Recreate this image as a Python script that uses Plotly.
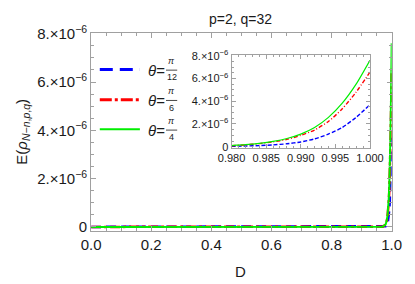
import plotly.graph_objects as go

W, H = 415, 284

# ---- data (values in units of 1e-6) ----
D_main = [0.0, 0.2, 0.4, 0.6, 0.8, 0.9, 0.95, 0.97,
          0.980, 0.982, 0.984, 0.986, 0.988, 0.990, 0.992, 0.994, 0.996, 0.998, 1.000]
blue_main = [0, 0, 0, 0, 0, 0, 0, 0.005,
             0.03, 0.06, 0.10, 0.16, 0.26, 0.42, 0.69, 1.11, 1.69, 2.58, 3.69]
red_main = [0, 0, 0, 0, 0, 0, 0, 0.01,
            0.09, 0.16, 0.27, 0.42, 0.64, 1.00, 1.47, 2.22, 3.33, 4.80, 6.55]
green_main = [0, 0, 0, 0, 0, 0, 0, 0.01,
              0.10, 0.18, 0.30, 0.47, 0.72, 1.11, 1.69, 2.58, 3.83, 5.50, 7.60]

D_inset = [0.980, 0.982, 0.984, 0.986, 0.988, 0.990, 0.992, 0.994, 0.996, 0.998, 1.000]
blue_inset = [0.03, 0.06, 0.10, 0.16, 0.26, 0.42, 0.69, 1.11, 1.69, 2.58, 3.69]
red_inset = [0.09, 0.16, 0.27, 0.42, 0.64, 1.00, 1.47, 2.22, 3.33, 4.80, 6.55]
green_inset = [0.10, 0.18, 0.30, 0.47, 0.72, 1.11, 1.69, 2.58, 3.83, 5.50, 7.60]
SCALE = 1e-6

series_names = ["θ=π/12", "θ=π/6", "θ=π/4"]
frac_den = ["12", "6", "4"]

y_tickvals = [0, 2e-6, 4e-6, 6e-6, 8e-6]
y_ticktext = ["0", "2.×10<sup>−6</sup>", "4.×10<sup>−6</sup>", "6.×10<sup>−6</sup>", "8.×10<sup>−6</sup>"]
x_main_tickvals = [0.0, 0.2, 0.4, 0.6, 0.8, 1.0]
x_main_ticktext = ["0.0", "0.2", "0.4", "0.6", "0.8", "1.0"]
x_inset_tickvals = [0.980, 0.985, 0.990, 0.995, 1.000]
x_inset_ticktext = ["0.980", "0.985", "0.990", "0.995", "1.000"]

BLUE, RED, GREEN = "#0000ff", "#ff0000", "#00ee00"
FRAME = "#a0a0a0"
FONT = "Liberation Sans, Arial, sans-serif"

def px(x):
    return x / W

def py(y):
    return 1 - y / H

fig = go.Figure()

main_styles = [
    (blue_main, BLUE, "10px,5px", 2.5),
    (red_main, RED, "10px,3px,3px,3px", 2.5),
    (green_main, GREEN, "solid", 2.0),
]
for (vals, col, dash, w), name in zip(main_styles, series_names):
    fig.add_trace(go.Scatter(
        x=D_main, y=[v * SCALE for v in vals], mode="lines", name=name,
        line=dict(color=col, dash=dash, width=w), showlegend=False,
        xaxis="x", yaxis="y"))

inset_styles = [
    (blue_inset, BLUE, "4px,2px", 1.4),
    (red_inset, RED, "4px,2px,1px,2px", 1.4),
    (green_inset, GREEN, "solid", 1.2),
]
for (vals, col, dash, w), name in zip(inset_styles, series_names):
    fig.add_trace(go.Scatter(
        x=D_inset, y=[v * SCALE for v in vals], mode="lines", name=name,
        line=dict(color=col, dash=dash, width=w, shape="spline", smoothing=0.6),
        showlegend=False, xaxis="x2", yaxis="y2"))

common = dict(showgrid=False, zeroline=False, showline=True, linecolor=FRAME,
              linewidth=1, mirror="ticks", ticks="inside", tickcolor=FRAME)

fig.update_layout(
    width=W, height=H,
    margin=dict(l=0, r=0, t=0, b=0),
    paper_bgcolor="white", plot_bgcolor="white",
    font=dict(family=FONT, color="#1a1a1a"),
    hovermode=False,
    xaxis=dict(domain=[px(82.7), px(405)], range=[0, 1],
               tickvals=x_main_tickvals, ticktext=x_main_ticktext,
               ticklen=5, tickfont=dict(size=15),
               minor=dict(tickmode="linear", tick0=0, dtick=0.05, ticklen=3,
                          ticks="inside", tickcolor=FRAME),
               anchor="y", **common),
    yaxis=dict(domain=[py(233), py(24)], range=[-0.157e-6, 8.04e-6],
               tickvals=y_tickvals, ticktext=y_ticktext,
               ticklen=5, tickfont=dict(size=15),
               minor=dict(tickmode="linear", tick0=0, dtick=0.5e-6, ticklen=3,
                          ticks="inside", tickcolor=FRAME),
               anchor="x", **common),
    xaxis2=dict(domain=[px(233.3), px(381.7)], range=[0.98, 1.0],
                tickvals=x_inset_tickvals, ticktext=x_inset_ticktext,
                ticklen=4, tickfont=dict(size=11),
                minor=dict(tickmode="linear", tick0=0.98, dtick=0.001, ticklen=2,
                           ticks="inside", tickcolor=FRAME),
                anchor="y2", **common),
    yaxis2=dict(domain=[py(145.3), py(47.3)], range=[-0.08e-6, 8.08e-6],
                tickvals=y_tickvals, ticktext=y_ticktext,
                ticklen=4, tickfont=dict(size=11),
                minor=dict(tickmode="linear", tick0=0, dtick=0.5e-6, ticklen=2,
                           ticks="inside", tickcolor=FRAME),
                anchor="x2", **common),
)

annotations = [
    dict(text="p=2, q=32", x=px(243), y=py(9), xref="paper", yref="paper",
         showarrow=False, font=dict(size=14), xanchor="center", yanchor="middle"),
    dict(text="D", x=px(243), y=py(276), xref="paper", yref="paper",
         showarrow=False, font=dict(size=15), xanchor="center", yanchor="middle"),
    dict(text="E(<i>ρ</i><sub><i>N</i>−<i>n</i>,<i>p</i>,<i>q</i></sub>)",
         x=px(9), y=py(128), xref="paper", yref="paper", textangle=-90,
         showarrow=False, font=dict(size=15), xanchor="center", yanchor="middle"),
]

shapes = []
legend_y = [62.7, 94.7, 126.0]
legend_dash = ["13px,7px", "12px,3px,3px,3px", "solid"]
legend_col = [BLUE, RED, GREEN]
legend_w = [3, 3, 2]
for ly, col, dash, w, den in zip(legend_y, legend_col, legend_dash, legend_w, frac_den):
    shapes.append(dict(type="line", xref="paper", yref="paper",
                       x0=px(92), x1=px(135), y0=py(ly), y1=py(ly),
                       line=dict(color=col, dash=dash, width=w)))
    annotations.append(dict(text="<i>θ</i>=", x=px(162.5), y=py(ly + 1),
                            xref="paper", yref="paper", showarrow=False,
                            font=dict(size=15), xanchor="right", yanchor="middle",
                            borderpad=0))
    annotations.append(dict(text="<i>π</i>", x=px(169), y=py(ly - 2.5),
                            xref="paper", yref="paper", showarrow=False,
                            font=dict(size=9), xanchor="center", yanchor="bottom",
                            borderpad=0))
    annotations.append(dict(text=den, x=px(169), y=py(ly + 2.2),
                            xref="paper", yref="paper", showarrow=False,
                            font=dict(size=9), xanchor="center", yanchor="top",
                            borderpad=0))
    shapes.append(dict(type="line", xref="paper", yref="paper",
                       x0=px(163), x1=px(175), y0=py(ly + 0.8), y1=py(ly + 0.8),
                       line=dict(color="#1a1a1a", width=0.8)))

fig.update_layout(annotations=annotations, shapes=shapes)

fig.write_html("out.html",
               config={"displayModeBar": False, "staticPlot": True},
               post_script="document.body.style.margin='0';document.body.style.overflow='hidden';")
